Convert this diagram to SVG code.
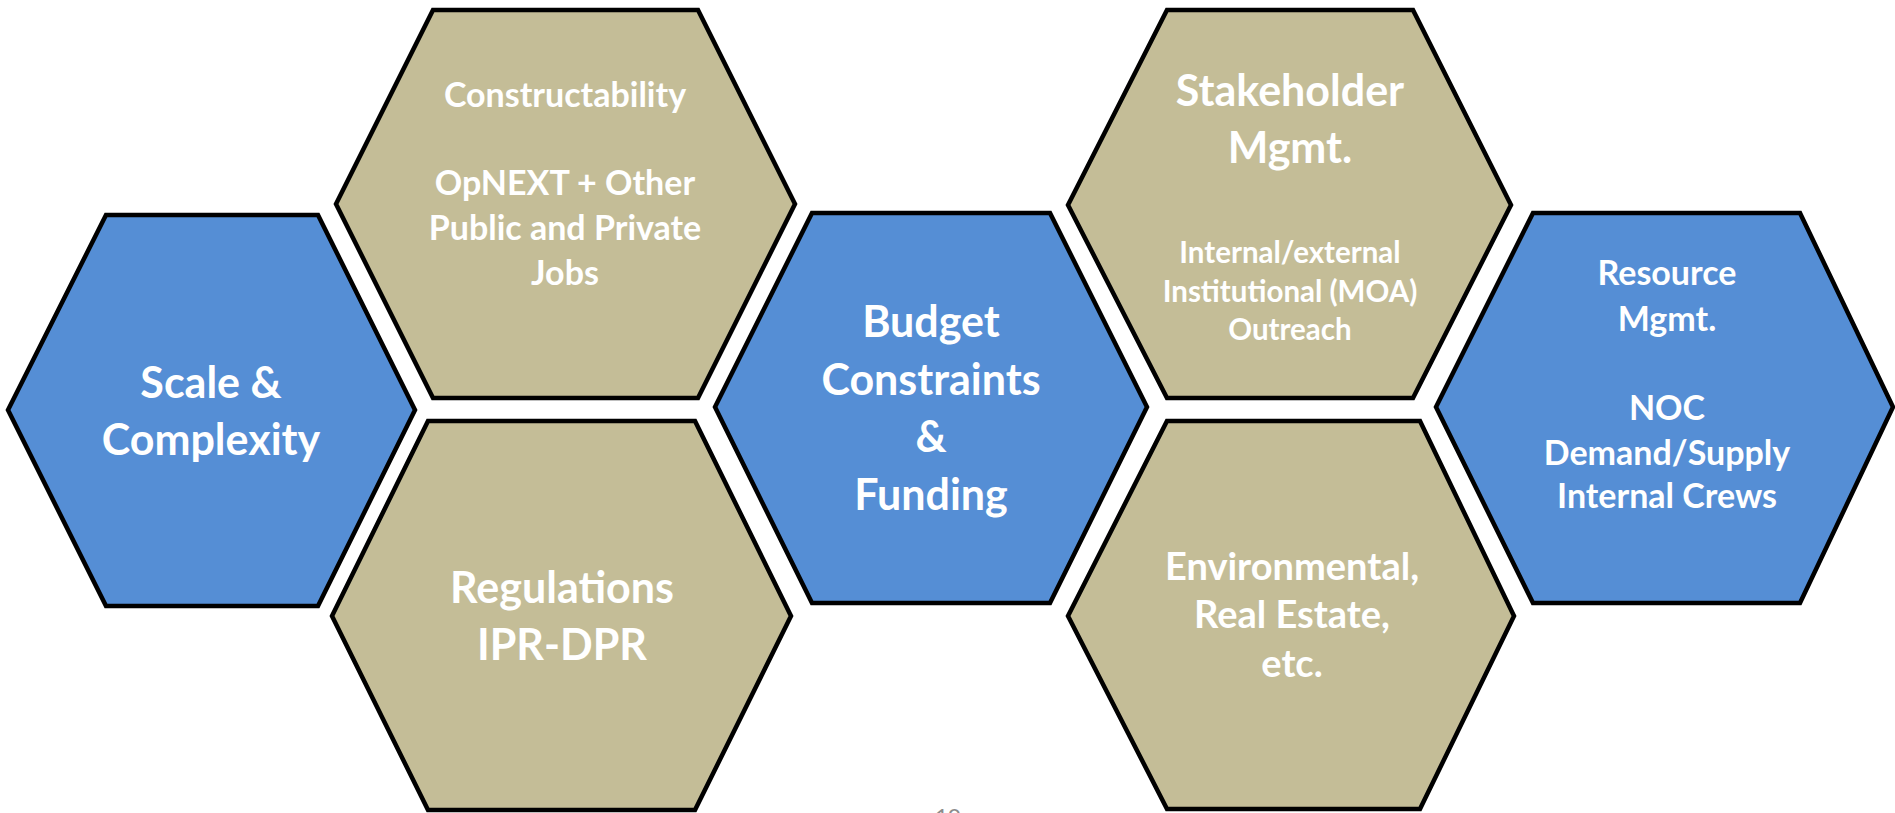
<svg xmlns="http://www.w3.org/2000/svg" width="1895" height="813" viewBox="0 0 1895 813">
<style>
.hex{stroke:#000;stroke-width:4.5;stroke-linejoin:miter}
.blue{fill:#558ED5}
.tan{fill:#C4BD97}
text{font-family:Lato,"Open Sans","Liberation Sans",sans-serif;font-weight:bold;fill:#fff;text-anchor:middle}
.big{font-size:43px}
.mid{font-size:38px}
.sm{font-size:34px}
.xs{font-size:29.5px}
.pg{font-size:22px;fill:#8c8c8c;font-weight:normal}
</style>
<rect width="1895" height="813" fill="#fff"/>
<g id="connectors"/>
<g id="scale">
<polygon class="hex blue" points="106,215 318,215 415,410 318,606 106,606 8,410"/>
<text class="big" x="211" y="398">Scale &amp;</text>
<text class="big" x="211" y="455">Complexity</text>
</g>
<g id="constructability">
<polygon class="hex tan" points="433,10 698,10 795,204 698,398 433,398 336,204"/>
<text class="sm" x="565" y="107">Constructability</text>
<text class="sm" x="565" y="195">OpNEXT + Other</text>
<text class="sm" x="565" y="240">Public and Private</text>
<text class="sm" x="565" y="285">Jobs</text>
</g>
<g id="regulations">
<polygon class="hex tan" points="428,421 695,421 791,616 695,810 428,810 332,616"/>
<text class="big" x="562" y="603">Regulations</text>
<text class="big" x="562" y="660">IPR-DPR</text>
</g>
<g id="budget">
<polygon class="hex blue" points="812,213 1050,213 1147,407 1050,603 812,603 715,407"/>
<text class="big" x="931" y="337">Budget</text>
<text class="big" x="931" y="395">Constraints</text>
<text class="big" x="931" y="452">&amp;</text>
<text class="big" x="931" y="510">Funding</text>
</g>
<g id="stakeholder">
<polygon class="hex tan" points="1167,10 1413,10 1511,205 1413,398 1167,398 1068,205"/>
<text class="big" x="1290" y="106">Stakeholder</text>
<text class="big" x="1290" y="163">Mgmt.</text>
<text class="xs" x="1290" y="263">Internal/external</text>
<text class="xs" x="1290" y="302">Institutional (MOA)</text>
<text class="xs" x="1290" y="340">Outreach</text>
</g>
<g id="environmental">
<polygon class="hex tan" points="1167,421 1420,421 1514,616 1420,809 1167,809 1068,616"/>
<text class="mid" x="1292" y="580">Environmental,</text>
<text class="mid" x="1292" y="628">Real Estate,</text>
<text class="mid" x="1292" y="677">etc.</text>
</g>
<g id="resource">
<polygon class="hex blue" points="1533,213 1800,213 1893,407 1800,603 1533,603 1436,407"/>
<text class="sm" x="1667" y="285">Resource</text>
<text class="sm" x="1667" y="331">Mgmt.</text>
<text class="sm" x="1667" y="420">NOC</text>
<text class="sm" x="1667" y="465">Demand/Supply</text>
<text class="sm" x="1667" y="508">Internal Crews</text>
</g>
<text class="pg" x="948" y="824">10</text>
</svg>
